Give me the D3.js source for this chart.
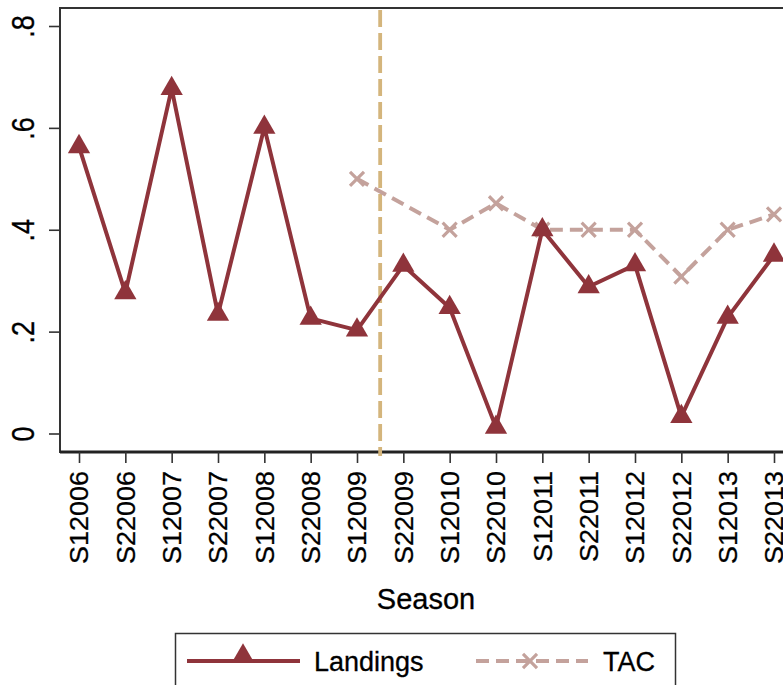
<!DOCTYPE html>
<html>
<head>
<meta charset="utf-8">
<script src="https://cdn.jsdelivr.net/npm/d3@7"></script>
<style>
  body { margin: 0; background: #fff; }
  text { font-family: "Liberation Sans", Arial, sans-serif; fill: #000; }
</style>
</head>
<body>
<svg width="783" height="685"></svg>
<script>
// seasons along the x axis
let seasons = ["S12006", "S22006", "S12007", "S22007", "S12008", "S22008", "S12009", "S22009",
  "S12010", "S22010", "S12011", "S22011", "S12012", "S22012", "S12013", "S22013"];

// values
let landings = [0.563, 0.276, 0.677, 0.234, 0.601, 0.226, 0.203, 0.330,
  0.247, 0.012, 0.400, 0.288, 0.331, 0.033, 0.228, 0.350];
let tac = [null, null, null, null, null, null, 0.50, null,
  0.40, 0.452, 0.40, 0.40, 0.40, 0.308, 0.40, 0.43];

let yTicks = [0, 0.2, 0.4, 0.6, 0.8];
let yTickLabels = ["0", ".2", ".4", ".6", ".8"];
let breakAt = 6.5; // vertical line between S12009 and S22009

let svg = d3.select("svg"),
  plot = {left: 60, top: 8, right: 800, bottom: 452};

let x = d3.scaleLinear().domain([0, seasons.length - 1]).range([79, 774]),
  y = d3.scaleLinear().domain([0, 0.8]).range([433.5, 26]);

let landColor = "#8f343b",
  tacColor = "#c4a29c",
  vColor = "#d4b57c";

// plot frame (right side runs off the picture)
svg.append("rect")
  .attr("x", plot.left).attr("y", plot.top)
  .attr("width", plot.right - plot.left).attr("height", plot.bottom - plot.top)
  .attr("fill", "none").attr("stroke", "#333").attr("stroke-width", 2);

// y axis
let yAxis = svg.append("g")
  .attr("transform", "translate(" + plot.left + ",0)")
  .call(d3.axisLeft(y).tickValues(yTicks).tickSize(11).tickFormat(function(d, i) { return yTickLabels[i]; }));
yAxis.select(".domain").remove();
yAxis.selectAll(".tick line").attr("stroke", "#333").attr("stroke-width", 1.6);
yAxis.selectAll(".tick text")
  .attr("x", 0).attr("dy", null)
  .attr("text-anchor", "middle")
  .attr("font-size", 27)
  .attr("transform", "translate(-37,0) rotate(-90) scale(1,1.15)")
  .attr("dominant-baseline", "central")
  .attr("stroke", "#000").attr("stroke-width", 0.3)
  .style("font-family", "'Liberation Sans', Arial, sans-serif");

// x axis
let xAxis = svg.append("g")
  .attr("transform", "translate(0," + plot.bottom + ")")
  .call(d3.axisBottom(x).tickValues(d3.range(seasons.length)).tickSize(11).tickFormat(function(d) { return seasons[d]; }));
xAxis.select(".domain").attr("stroke", "#222").attr("stroke-width", 3).attr("d", "M" + plot.left + ",0H" + plot.right);
xAxis.selectAll(".tick line").attr("stroke", "#333").attr("stroke-width", 1.6);
xAxis.selectAll(".tick text")
  .attr("y", 0).attr("dy", null)
  .attr("text-anchor", "end")
  .attr("font-size", 27)
  .attr("dominant-baseline", "central")
  .attr("transform", "translate(0,19) rotate(-90) scale(1,0.95)")
  .attr("stroke", "#000").attr("stroke-width", 0.3)
  .style("font-family", "'Liberation Sans', Arial, sans-serif");

// vertical break line
svg.append("line")
  .attr("x1", x(breakAt)).attr("x2", x(breakAt))
  .attr("y1", plot.top + 2).attr("y2", plot.bottom + 4)
  .attr("stroke", vColor).attr("stroke-width", 3.8)
  .attr("stroke-dasharray", "17,6");

// TAC series (missing season skipped, line joins across it)
let tacPts = tac.map(function(v, i) { return {i: i, v: v}; }).filter(function(d) { return d.v !== null; });
let line = d3.line().x(function(d) { return x(d.i); }).y(function(d) { return y(d.v); });

svg.append("path")
  .datum(tacPts)
  .attr("d", line)
  .attr("fill", "none").attr("stroke", tacColor).attr("stroke-width", 4)
  .attr("stroke-dasharray", "13,7");

svg.selectAll(".tacmark")
  .data(tacPts)
  .enter().append("path")
  .attr("class", "tacmark")
  .attr("transform", function(d) { return "translate(" + x(d.i) + "," + y(d.v) + ")"; })
  .attr("d", d3.symbol(d3.symbolX, 130))
  .attr("fill", "none").attr("stroke", tacColor).attr("stroke-width", 3.2);

// Landings series
let landPts = landings.map(function(v, i) { return {i: i, v: v}; });
svg.append("path")
  .datum(landPts)
  .attr("d", line)
  .attr("fill", "none").attr("stroke", landColor).attr("stroke-width", 4)
  .attr("stroke-linejoin", "round");

svg.selectAll(".landmark")
  .data(landPts)
  .enter().append("path")
  .attr("class", "landmark")
  .attr("transform", function(d) { return "translate(" + x(d.i) + "," + y(d.v) + ")"; })
  .attr("d", d3.symbol(d3.symbolTriangle, 215))
  .attr("fill", landColor);

// axis title
svg.append("text")
  .attr("x", 426).attr("y", 609)
  .attr("text-anchor", "middle")
  .attr("font-size", 29)
  .attr("stroke", "#000").attr("stroke-width", 0.3)
  .text("Season");

// legend
let legend = svg.append("g");
legend.append("rect")
  .attr("x", 175.5).attr("y", 633.5).attr("width", 500).attr("height", 80)
  .attr("fill", "#fff").attr("stroke", "#333").attr("stroke-width", 1.5);

legend.append("line")
  .attr("x1", 187).attr("x2", 300).attr("y1", 661).attr("y2", 661)
  .attr("stroke", landColor).attr("stroke-width", 4);
legend.append("path")
  .attr("transform", "translate(243,656)")
  .attr("d", d3.symbol(d3.symbolTriangle, 215))
  .attr("fill", landColor);
legend.append("text")
  .attr("x", 314).attr("y", 671)
  .attr("font-size", 27)
  .attr("stroke", "#000").attr("stroke-width", 0.3)
  .text("Landings");

legend.append("line")
  .attr("x1", 476).attr("x2", 588).attr("y1", 661).attr("y2", 661)
  .attr("stroke", tacColor).attr("stroke-width", 4)
  .attr("stroke-dasharray", "13,7");
legend.append("path")
  .attr("transform", "translate(530,661)")
  .attr("d", d3.symbol(d3.symbolX, 130))
  .attr("fill", "none").attr("stroke", tacColor).attr("stroke-width", 3.2);
legend.append("text")
  .attr("x", 603).attr("y", 671)
  .attr("font-size", 27)
  .attr("stroke", "#000").attr("stroke-width", 0.3)
  .text("TAC");
</script>
</body>
</html>
